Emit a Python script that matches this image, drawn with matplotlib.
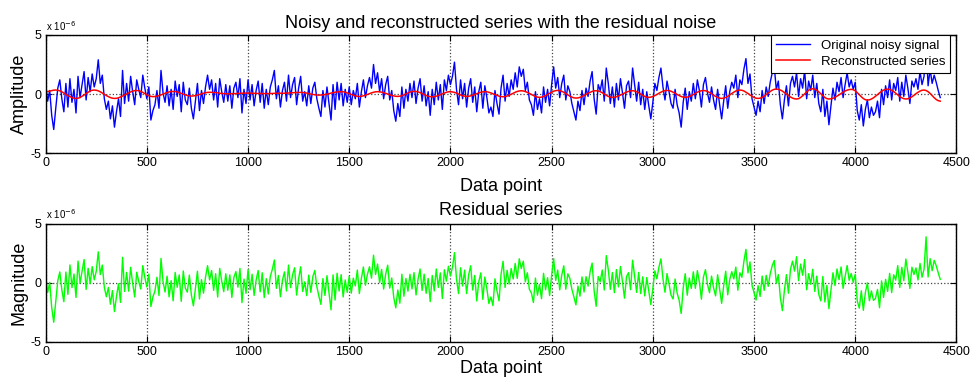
import matplotlib
matplotlib.use("Agg")
import matplotlib.pyplot as plt
import numpy as np

plt.rcParams["font.family"] = ["Liberation Sans", "DejaVu Sans"]
plt.rcParams["axes.unicode_minus"] = False

# values in units of 1e-6, one sample every 10 data points (0 ... 4420)
STEP = 10
noisy_signal = [
    0.8, -0.6, 0.3, -1.8, -3.0, -1.2, 0.5, 1.2, -0.4, -1.5,
    0.9, -1.1, 1.3, -0.7, 0.4, -1.6, 1.5, -0.3, 0.8, 1.9,
    -0.5, 1.4, 0.2, 1.7, 0.6, 1.3, 2.9, 0.9, 1.6, -0.4,
    -1.3, -0.6, -2.1, -1.0, -2.8, -1.5, -0.4, -1.9, 2.0, -0.8,
    0.9, -0.6, 1.5, 0.2, -0.9, 1.2, 0.4, -0.3, 1.6, 0.5,
    -0.4, 0.6, -2.2, -1.4, -0.9, 0.3, -1.2, 2.0, 0.1, -0.7,
    0.7, -1.0, 0.4, -1.3, 1.1, -0.2, 0.8, -1.5, 1.0, -0.5,
    -0.9, 0.5, -1.2, -2.1, -0.6, 0.9, -1.4, 0.3, -0.8, 0.6,
    1.6, 0.4, 1.2, -0.5, 0.9, -1.1, 1.3, 0.2, -0.7, 0.8,
    -0.6, 0.7, -1.2, 0.5, 1.0, -0.3, 1.3, -1.6, 0.4, -0.8,
    1.2, -0.5, 0.8, -1.0, 0.3, 1.1, -0.7, 0.9, -1.2, 0.4,
    -0.9, 0.6, 1.2, 2.0, -0.4, 0.7, -1.1, 0.3, 1.0, -0.6,
    1.6, -0.3, 0.8, 1.4, -0.9, 0.5, 1.5, -0.6, 0.2, -1.0,
    0.7, -0.8, 0.5, 1.0, -0.4, -1.2, -1.9, 0.3, -1.1, 0.6,
    -0.8, -2.2, 0.8, -1.3, 1.0, -0.5, 0.9, -1.0, 0.4, -0.7,
    0.6, -0.9, 0.3, -0.4, 0.9, -1.1, 0.2, 1.2, -0.3, 0.7,
    1.4, 0.5, 2.5, 0.9, 1.8, 0.2, 1.3, -0.4, 0.8, 1.5,
    -0.5, 0.3, -1.4, -2.3, -0.8, -1.9, 0.6, -1.2, 0.4, -0.6,
    0.9, -0.3, 1.1, -0.8, 0.5, 1.3, -0.6, 0.7, -1.0, 0.2,
    -1.8, 0.4, -0.9, 1.0, -0.5, 0.8, -1.3, 1.2, 0.3, 1.6,
    0.8, 1.5, 2.7, 0.4, -0.9, 1.2, -0.4, 0.9, -1.1, 0.5,
    1.3, -0.7, 0.6, -1.5, 0.2, 1.0, -1.2, 0.7, -0.3, -1.6,
    -1.1, -1.9, 0.3, -0.8, -1.7, 0.5, 1.6, -0.6, 0.9, -0.2,
    1.2, 0.4, 1.8, 0.6, 2.3, 1.5, 2.1, 0.3, 1.0, -0.5,
    -0.9, -1.8, 0.2, -1.3, -0.4, -1.6, 0.6, -0.7, 0.4, -1.0,
    0.8, 2.3, 0.5, 1.4, -0.3, 0.9, 1.6, -0.5, 0.7, 0.2,
    -0.8, -1.5, -2.2, -0.6, -1.4, 0.3, -0.9, 0.5, -0.2, 1.1,
    1.9, -0.4, -1.7, 0.8, 0.3, 1.2, -0.6, 2.2, 0.9, -0.8,
    0.6, -1.1, 0.9, -0.5, 1.3, 0.1, -1.2, 0.7, 1.1, -0.3,
    2.2, 0.8, -0.6, 1.0, -0.9, 0.4, -1.3, 0.2, -1.0, -2.1,
    -0.7, 0.9, 0.3, 1.4, 2.2, 0.6, -0.5, 1.1, 0.2, -0.8,
    -1.2, 0.4, -0.9, -1.6, -2.8, -0.7, 0.5, -1.3, 0.2, -0.6,
    0.9, -0.4, 1.2, 0.3, -1.1, 0.8, 1.4, 0.1, -0.7, 0.6,
    -0.5, -1.3, 0.4, -0.9, -2.1, -0.6, 0.7, -1.2, 0.2, 1.0,
    0.5, 1.6, -0.3, 1.2, 0.8, 2.1, 3.0, 0.9, 1.7, -0.4,
    -1.1, -1.8, -0.6, -1.5, 0.3, -0.8, 0.6, -0.2, 1.0, 1.8,
    2.3, 0.4, 1.1, -0.9, -2.1, -0.5, 0.7, -1.0, 0.9, 1.5,
    0.6, 1.8, -0.2, 1.3, 0.5, 2.0, -0.4, 1.1, 0.3, 1.6,
    -0.3, 0.9, -0.8, -1.5, 0.4, -1.9, -0.6, -2.6, -1.0, 0.5,
    -0.5, 1.0, 0.2, 1.4, -0.3, 0.8, 1.8, 0.6, 1.2, 0.4,
    1.0, -1.4, -2.2, -0.9, -2.7, -1.3, -0.5, -2.0, -1.1, -1.8,
    -1.5, -0.6, -2.0, 0.4, -0.9, 0.7, -0.3, 1.2, -0.5, 0.9,
    0.3, 1.4, -0.6, 1.0, -0.2, 1.6, 0.5, -0.8, 1.1, 0.6,
    1.3, 0.4, 1.9, 0.8, 1.5, 4.2, 0.7, 2.1, 0.9, 1.6,
    1.0, 0.3, -0.3,
]

reconstructed = [
    0.20, 0.21, 0.25, 0.29, 0.33, 0.34,
    0.32, 0.27, 0.19, 0.09, -0.02, -0.13, -0.22, -0.30, -0.35, -0.37,
    -0.35, -0.29, -0.19, -0.08, 0.05, 0.16, 0.26, 0.32, 0.34,
    0.32, 0.27, 0.19, 0.09, -0.02, -0.13, -0.22, -0.30, -0.35, -0.37,
    -0.36, -0.32, -0.25, -0.17, -0.08, 0.01, 0.10, 0.18, 0.25, 0.29, 0.30,
    0.28, 0.22, 0.14, 0.04, -0.06, -0.14, -0.20, -0.22,
    -0.21, -0.18, -0.13, -0.07, 0.00, 0.07, 0.13, 0.18, 0.21, 0.22,
    0.21, 0.17, 0.12, 0.06, -0.01, -0.07, -0.12, -0.16, -0.17,
    -0.16, -0.13, -0.09, -0.04, 0.02, 0.07, 0.11, 0.14, 0.15,
    0.15, 0.13, 0.12, 0.10, 0.07, 0.05, 0.04, 0.03, 0.02,
    0.02, 0.03, 0.04, 0.04, 0.06, 0.07, 0.07, 0.08, 0.08,
    0.08, 0.08, 0.07, 0.06, 0.06, 0.05, 0.05, 0.04, 0.04,
    0.04, 0.04, 0.05, 0.05, 0.06, 0.06, 0.07, 0.07, 0.07,
    0.07, 0.08, 0.09, 0.10, 0.11, 0.12, 0.13, 0.14, 0.14,
    0.13, 0.11, 0.08, 0.04, 0.00, -0.03, -0.06, -0.08, -0.09,
    -0.08, -0.07, -0.04, -0.01, 0.03, 0.08, 0.12, 0.15, 0.18, 0.19, 0.20,
    0.19, 0.15, 0.10, 0.03, -0.03, -0.10, -0.15, -0.19, -0.20,
    -0.19, -0.15, -0.10, -0.03, 0.03, 0.10, 0.15, 0.19, 0.20,
    0.19, 0.16, 0.12, 0.06, 0.00, -0.06, -0.12, -0.16, -0.19, -0.20,
    -0.18, -0.14, -0.07, 0.02, 0.10, 0.17, 0.21, 0.23,
    0.22, 0.18, 0.12, 0.04, -0.04, -0.12, -0.18, -0.22, -0.23,
    -0.22, -0.18, -0.12, -0.05, 0.02, 0.09, 0.15, 0.19, 0.20,
    0.18, 0.14, 0.08, 0.00, -0.08, -0.14, -0.18, -0.20,
    -0.19, -0.15, -0.10, -0.03, 0.03, 0.10, 0.15, 0.19, 0.20,
    0.19, 0.15, 0.09, 0.02, -0.05, -0.12, -0.18, -0.22, -0.23,
    -0.21, -0.17, -0.10, -0.02, 0.07, 0.15, 0.22, 0.26, 0.28,
    0.26, 0.21, 0.14, 0.05, -0.05, -0.14, -0.21, -0.26, -0.28,
    -0.26, -0.21, -0.13, -0.04, 0.07, 0.16, 0.24, 0.29, 0.31,
    0.29, 0.23, 0.15, 0.04, -0.07, -0.18, -0.26, -0.32, -0.34,
    -0.33, -0.28, -0.21, -0.13, -0.03, 0.07, 0.15, 0.22, 0.27, 0.28,
    0.26, 0.20, 0.11, 0.00, -0.11, -0.20, -0.26, -0.28,
    -0.27, -0.23, -0.16, -0.09, 0.00, 0.09, 0.16, 0.23, 0.27, 0.28,
    0.26, 0.20, 0.11, 0.00, -0.11, -0.20, -0.26, -0.28,
    -0.26, -0.21, -0.13, -0.04, 0.07, 0.16, 0.24, 0.29, 0.31,
    0.29, 0.24, 0.16, 0.07, -0.04, -0.13, -0.21, -0.26, -0.28,
    -0.26, -0.21, -0.13, -0.04, 0.06, 0.16, 0.23, 0.28, 0.30,
    0.28, 0.22, 0.13, 0.02, -0.09, -0.20, -0.29, -0.35, -0.37,
    -0.35, -0.29, -0.19, -0.08, 0.05, 0.16, 0.26, 0.32, 0.34,
    0.32, 0.26, 0.16, 0.05, -0.08, -0.19, -0.29, -0.35, -0.37,
    -0.35, -0.28, -0.17, -0.04, 0.09, 0.22, 0.33, 0.40, 0.42,
    0.40, 0.34, 0.25, 0.13, 0.00, -0.13, -0.25, -0.34, -0.40, -0.42,
    -0.39, -0.29, -0.15, 0.02, 0.18, 0.32, 0.42, 0.45,
    0.42, 0.32, 0.18, 0.02, -0.15, -0.29, -0.39, -0.42,
    -0.40, -0.36, -0.28, -0.18, -0.07, 0.05, 0.16, 0.26, 0.33, 0.38, 0.40,
    0.37, 0.27, 0.12, -0.06, -0.23, -0.38, -0.48, -0.51,
    -0.49, -0.42, -0.32, -0.19, -0.05, 0.10, 0.23, 0.33, 0.40, 0.42,
    0.39, 0.32, 0.21, 0.07, -0.07, -0.21, -0.32, -0.39, -0.42,
    -0.40, -0.33, -0.23, -0.11, 0.03, 0.15, 0.25, 0.32, 0.34,
    0.30, 0.20, 0.05, -0.13, -0.31, -0.46, -0.56, -0.60,
]

n = min(len(noisy_signal), len(reconstructed))
data_point = np.arange(n) * STEP
noisy = np.array(noisy_signal[:n])
recon = np.array(reconstructed[:n])
residual = noisy - recon

x_ticks = np.arange(0, 4501, 500)
y_ticks = [-5, 0, 5]


def style_axes(ax):
    ax.set_xlim(0, 4500)
    ax.set_ylim(-5, 5)
    ax.set_xticks(x_ticks)
    ax.set_yticks(y_ticks)
    ax.tick_params(direction="in", top=True, right=True, labelsize=9, length=4, pad=3)
    ax.grid(True, linestyle=":", color="#444444", linewidth=0.9)
    for s in ax.spines.values():
        s.set_linewidth(1.0)
    ax.text(0.0, 1.02, r"x 10$^{-6}$", transform=ax.transAxes, fontsize=7,
            ha="left", va="bottom")


fig = plt.figure(figsize=(9.71, 3.80), dpi=100)
ax1 = fig.add_axes([0.047, 0.597, 0.938, 0.311])
ax2 = fig.add_axes([0.047, 0.100, 0.938, 0.311])

ax1.plot(data_point, noisy, color="#0000ff", linewidth=1.0, label="Original noisy signal")
ax1.plot(data_point, recon, color="#ff0000", linewidth=1.1, label="Reconstructed series")
style_axes(ax1)
ax1.set_title("Noisy and reconstructed series with the residual noise", fontsize=13, pad=5)
ax1.set_xlabel("Data point", fontsize=13, labelpad=6)
ax1.set_ylabel("Amplitude", fontsize=13, labelpad=2)
leg = ax1.legend(loc="upper right", bbox_to_anchor=(0.993, 1.0), fontsize=9.5,
                 frameon=True, fancybox=False, framealpha=1, edgecolor="black",
                 borderaxespad=0.0, handlelength=2.6, borderpad=0.35, labelspacing=0.3)
leg.get_frame().set_linewidth(0.8)

ax2.plot(data_point, residual, color="#00ff00", linewidth=1.0)
style_axes(ax2)
ax2.set_title("Residual series", fontsize=13, pad=6)
ax2.set_xlabel("Data point", fontsize=13, labelpad=1)
ax2.set_ylabel("Magnitude", fontsize=13, labelpad=2)

fig.savefig("out.png", dpi=100)
